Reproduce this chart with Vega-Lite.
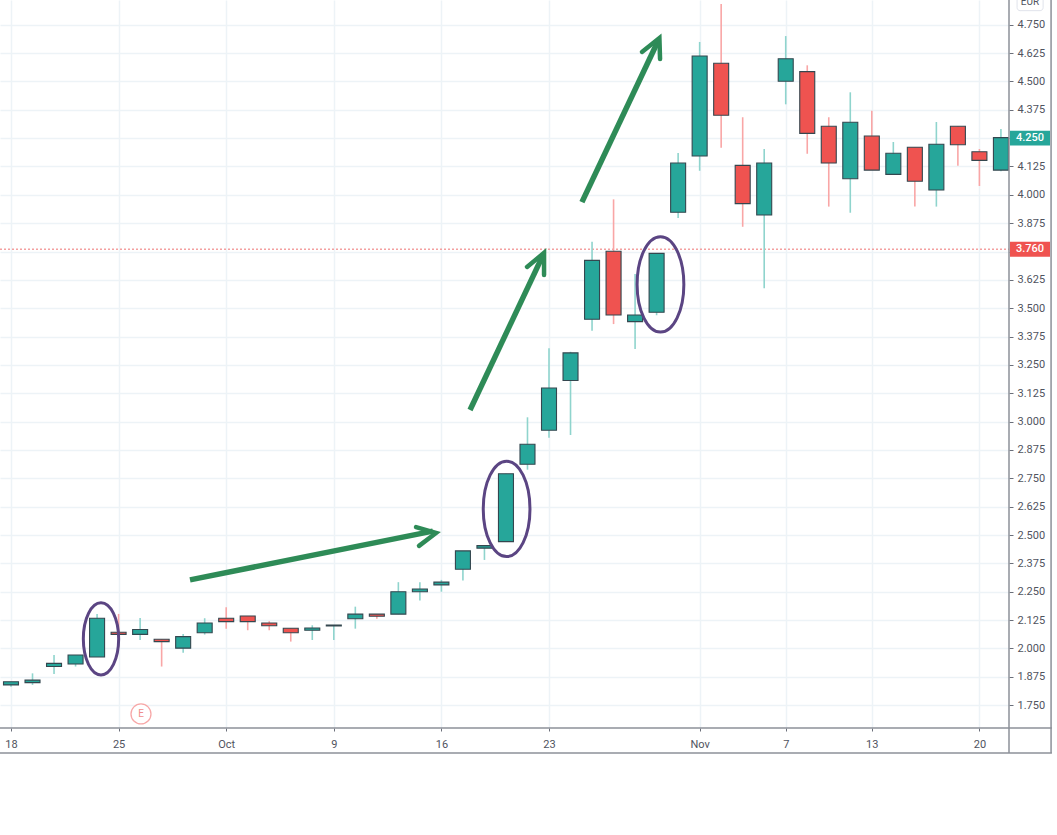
{
  "$schema": "https://vega.github.io/schema/vega-lite/v6.json",
  "width": 1009,
  "height": 728,
  "autosize": "none",
  "padding": {"left": 0, "top": 0, "right": 48, "bottom": 107},
  "background": "white",
  "config": {"view": {"stroke": null}, "axis": {"labelOverlap": false}},
  "datasets": {
    "candles": [
      {"i": 0, "o": 1.839, "h": 1.853, "l": 1.831, "c": 1.853},
      {"i": 1, "o": 1.849, "h": 1.890, "l": 1.839, "c": 1.860},
      {"i": 2, "o": 1.920, "h": 1.971, "l": 1.887, "c": 1.934},
      {"i": 3, "o": 1.931, "h": 1.971, "l": 1.920, "c": 1.971},
      {"i": 4, "o": 1.962, "h": 2.152, "l": 1.962, "c": 2.133},
      {"i": 5, "o": 2.071, "h": 2.152, "l": 2.062, "c": 2.062},
      {"i": 6, "o": 2.062, "h": 2.134, "l": 2.037, "c": 2.083},
      {"i": 7, "o": 2.040, "h": 2.040, "l": 1.920, "c": 2.030},
      {"i": 8, "o": 2.001, "h": 2.064, "l": 1.981, "c": 2.052},
      {"i": 9, "o": 2.069, "h": 2.133, "l": 2.061, "c": 2.112},
      {"i": 10, "o": 2.133, "h": 2.181, "l": 2.087, "c": 2.118},
      {"i": 11, "o": 2.143, "h": 2.143, "l": 2.080, "c": 2.118},
      {"i": 12, "o": 2.112, "h": 2.120, "l": 2.080, "c": 2.100},
      {"i": 13, "o": 2.089, "h": 2.089, "l": 2.030, "c": 2.069},
      {"i": 14, "o": 2.080, "h": 2.102, "l": 2.037, "c": 2.090},
      {"i": 15, "o": 2.099, "h": 2.103, "l": 2.037, "c": 2.103},
      {"i": 16, "o": 2.131, "h": 2.184, "l": 2.087, "c": 2.151},
      {"i": 17, "o": 2.151, "h": 2.151, "l": 2.131, "c": 2.142},
      {"i": 18, "o": 2.151, "h": 2.292, "l": 2.151, "c": 2.250},
      {"i": 19, "o": 2.250, "h": 2.292, "l": 2.211, "c": 2.262},
      {"i": 20, "o": 2.280, "h": 2.302, "l": 2.250, "c": 2.292},
      {"i": 21, "o": 2.349, "h": 2.430, "l": 2.299, "c": 2.430},
      {"i": 22, "o": 2.442, "h": 2.453, "l": 2.390, "c": 2.453},
      {"i": 23, "o": 2.471, "h": 2.770, "l": 2.471, "c": 2.770},
      {"i": 24, "o": 2.812, "h": 3.019, "l": 2.788, "c": 2.900},
      {"i": 25, "o": 2.962, "h": 3.323, "l": 2.929, "c": 3.148},
      {"i": 26, "o": 3.181, "h": 3.308, "l": 2.941, "c": 3.303},
      {"i": 27, "o": 3.451, "h": 3.793, "l": 3.401, "c": 3.711},
      {"i": 28, "o": 3.751, "h": 3.980, "l": 3.430, "c": 3.470},
      {"i": 29, "o": 3.441, "h": 3.651, "l": 3.320, "c": 3.470},
      {"i": 30, "o": 3.482, "h": 3.742, "l": 3.469, "c": 3.742},
      {"i": 31, "o": 3.923, "h": 4.184, "l": 3.898, "c": 4.140},
      {"i": 32, "o": 4.171, "h": 4.674, "l": 4.106, "c": 4.612},
      {"i": 33, "o": 4.580, "h": 4.841, "l": 4.208, "c": 4.351},
      {"i": 34, "o": 4.130, "h": 4.342, "l": 3.859, "c": 3.961},
      {"i": 35, "o": 3.911, "h": 4.202, "l": 3.588, "c": 4.140},
      {"i": 36, "o": 4.501, "h": 4.700, "l": 4.399, "c": 4.600},
      {"i": 37, "o": 4.543, "h": 4.571, "l": 4.181, "c": 4.271},
      {"i": 38, "o": 4.302, "h": 4.342, "l": 3.948, "c": 4.140},
      {"i": 39, "o": 4.071, "h": 4.452, "l": 3.921, "c": 4.320},
      {"i": 40, "o": 4.259, "h": 4.371, "l": 4.109, "c": 4.109},
      {"i": 41, "o": 4.090, "h": 4.233, "l": 4.090, "c": 4.183},
      {"i": 42, "o": 4.210, "h": 4.210, "l": 3.948, "c": 4.060},
      {"i": 43, "o": 4.021, "h": 4.321, "l": 3.948, "c": 4.223},
      {"i": 44, "o": 4.302, "h": 4.302, "l": 4.128, "c": 4.221},
      {"i": 45, "o": 4.190, "h": 4.202, "l": 4.039, "c": 4.152},
      {"i": 46, "o": 4.109, "h": 4.290, "l": 4.104, "c": 4.252}
    ],
    "shafts": [
      {"arrow": "a", "s": 0, "i": 8.318, "p": 2.302},
      {"arrow": "a", "s": 1, "i": 19.6, "p": 2.517},
      {"arrow": "b", "s": 0, "i": 21.33, "p": 3.051},
      {"arrow": "b", "s": 1, "i": 24.7, "p": 3.73},
      {"arrow": "c", "s": 0, "i": 26.53, "p": 3.968},
      {"arrow": "c", "s": 1, "i": 30.05, "p": 4.675}
    ],
    "heads": [
      {"arrow": "a", "s": 0, "i": 18.82, "p": 2.535},
      {"arrow": "a", "s": 1, "i": 19.75, "p": 2.509},
      {"arrow": "a", "s": 2, "i": 18.96, "p": 2.452},
      {"arrow": "b", "s": 0, "i": 23.98, "p": 3.682},
      {"arrow": "b", "s": 1, "i": 24.77, "p": 3.744},
      {"arrow": "b", "s": 2, "i": 24.77, "p": 3.646},
      {"arrow": "c", "s": 0, "i": 29.32, "p": 4.630},
      {"arrow": "c", "s": 1, "i": 30.13, "p": 4.691},
      {"arrow": "c", "s": 2, "i": 30.16, "p": 4.599}
    ],
    "rings": [
      {"i": 4.182, "p": 2.042, "ring": "small"},
      {"i": 23.03, "p": 2.615, "ring": "tall"},
      {"i": 30.18, "p": 3.605, "ring": "tall"}
    ],
    "frame": [
      {"i": -0.511, "i2": 48.37, "p": 1.649, "p2": 1.649},
      {"i": -0.511, "i2": 48.37, "p": 1.539, "p2": 1.539},
      {"i": 46.375, "i2": 46.375, "p": 4.859, "p2": 1.539},
      {"i": 48.33, "i2": 48.33, "p": 4.859, "p2": 1.539}
    ],
    "tags": [
      {"i": 46.42, "i2": 48.28, "mid": 47.35, "p": 4.283, "p2": 4.217, "price": 4.25, "label": "4.250", "kind": "last"},
      {"i": 46.42, "i2": 48.28, "mid": 47.35, "p": 3.793, "p2": 3.727, "price": 3.76, "label": "3.760", "kind": "prev"}
    ]
  },
  "data": {"name": "candles"},
  "encoding": {
    "x": {
      "field": "i",
      "type": "quantitative",
      "scale": {"domain": [-0.511, 46.375], "zero": false, "nice": false, "padding": 0},
      "axis": {
        "title": null,
        "values": [0, 5, 10, 15, 20, 25, 32, 36, 40, 45],
        "labelExpr": "{'0':'18','5':'25','10':'Oct','15':'9','20':'16','25':'23','32':'Nov','36':'7','40':'13','45':'20'}[datum.value]",
        "domain": false,
        "tickSize": 3,
        "tickColor": "#6b6f7a",
        "labelPadding": 7,
        "labelFont": "Roboto",
        "labelFontSize": 11,
        "labelColor": "#50535e",
        "labelFlush": false,
        "labelOverlap": false,
        "gridColor": "#edf3f7",
        "gridWidth": 1.5
      }
    },
    "y": {
      "field": "p",
      "type": "quantitative",
      "scale": {"domain": [1.649, 4.859], "zero": false, "nice": false},
      "axis": {
        "title": null,
        "orient": "right",
        "values": [1.75, 1.875, 2, 2.125, 2.25, 2.375, 2.5, 2.625, 2.75, 2.875, 3, 3.125, 3.25, 3.375, 3.5, 3.625, 3.75, 3.875, 4, 4.125, 4.25, 4.375, 4.5, 4.625, 4.75],
        "format": ".3f",
        "labelExpr": "datum.value == 4.25 || datum.value == 3.75 ? '' : datum.label",
        "domain": false,
        "tickSize": 4,
        "tickColor": "#6b6f7a",
        "labelPadding": 4,
        "labelFont": "Roboto",
        "labelFontSize": 11,
        "labelColor": "#50535e",
        "labelOverlap": false,
        "gridColor": "#edf3f7",
        "gridWidth": 1.5
      }
    }
  },
  "layer": [
    {
      "data": {"values": [{"i": -0.511, "i2": 46.375, "p": 3.76}]},
      "mark": {"type": "rule", "stroke": "#f4a0a0", "strokeWidth": 1.4, "strokeDash": [2, 2]},
      "encoding": {"x2": {"field": "i2"}}
    },
    {
      "mark": {"type": "rule", "strokeWidth": 1.6},
      "encoding": {
        "y": {"field": "l", "type": "quantitative", "scale": {"domain": [1.649, 4.859], "zero": false, "nice": false}, "axis": {"title": null, "orient": "right", "values": [1.75, 1.875, 2, 2.125, 2.25, 2.375, 2.5, 2.625, 2.75, 2.875, 3, 3.125, 3.25, 3.375, 3.5, 3.625, 3.75, 3.875, 4, 4.125, 4.25, 4.375, 4.5, 4.625, 4.75], "labelOverlap": false}},
        "y2": {"field": "h"},
        "stroke": {"condition": {"test": "datum.c >= datum.o", "value": "#8fd4cd"}, "value": "#f9a6a6"}
      }
    },
    {
      "mark": {"type": "bar", "orient": "vertical", "size": 15, "stroke": "#34474f", "strokeWidth": 1.1},
      "encoding": {
        "y": {"field": "o", "type": "quantitative", "scale": {"domain": [1.649, 4.859], "zero": false, "nice": false}, "axis": {"title": null, "orient": "right", "values": [1.75, 1.875, 2, 2.125, 2.25, 2.375, 2.5, 2.625, 2.75, 2.875, 3, 3.125, 3.25, 3.375, 3.5, 3.625, 3.75, 3.875, 4, 4.125, 4.25, 4.375, 4.5, 4.625, 4.75], "labelOverlap": false}},
        "y2": {"field": "c"},
        "fill": {"condition": {"test": "datum.c >= datum.o", "value": "#26a69a"}, "value": "#ef5350"}
      }
    },
    {
      "data": {"name": "frame"},
      "mark": {"type": "rule", "stroke": "#8d9099", "strokeWidth": 1.5},
      "encoding": {"x2": {"field": "i2"}, "y2": {"field": "p2"}}
    },
    {
      "data": {"name": "tags"},
      "mark": {"type": "rect"},
      "encoding": {
        "x2": {"field": "i2"},
        "y2": {"field": "p2"},
        "fill": {"field": "kind", "type": "nominal", "scale": {"domain": ["last", "prev"], "range": ["#26a69a", "#ef5350"]}, "legend": null}
      }
    },
    {
      "data": {"name": "tags"},
      "mark": {"type": "text", "font": "Roboto", "fontSize": 11, "fontWeight": 500, "fill": "white"},
      "encoding": {
        "x": {"field": "mid", "type": "quantitative", "scale": {"domain": [-0.511, 46.375], "zero": false, "nice": false, "padding": 0}, "axis": {"title": null, "values": [0, 5, 10, 15, 20, 25, 32, 36, 40, 45], "labelOverlap": false}},
        "y": {"field": "price", "type": "quantitative", "scale": {"domain": [1.649, 4.859], "zero": false, "nice": false}, "axis": {"title": null, "orient": "right", "values": [1.75, 1.875, 2, 2.125, 2.25, 2.375, 2.5, 2.625, 2.75, 2.875, 3, 3.125, 3.25, 3.375, 3.5, 3.625, 3.75, 3.875, 4, 4.125, 4.25, 4.375, 4.5, 4.625, 4.75], "labelOverlap": false}},
        "text": {"field": "label"}
      }
    },
    {
      "data": {"values": [{"i": 46.75, "i2": 47.96, "p": 4.9, "p2": 4.812}]},
      "mark": {"type": "rect", "fill": "white", "stroke": "#e0e3eb", "strokeWidth": 1, "cornerRadius": 3},
      "encoding": {"x2": {"field": "i2"}, "y2": {"field": "p2"}}
    },
    {
      "data": {"values": [{"i": 47.35, "p": 4.848, "label": "EUR"}]},
      "mark": {"type": "text", "font": "Roboto", "fontSize": 10, "fill": "#50535e"},
      "encoding": {"text": {"field": "label"}}
    },
    {
      "data": {"values": [{"i": 6.04, "p": 1.711, "label": "E"}]},
      "mark": {"type": "point", "shape": "circle", "size": 400, "filled": true, "fill": "white", "stroke": "#f7a8a8", "strokeWidth": 1.3, "opacity": 1}
    },
    {
      "data": {"values": [{"i": 6.04, "p": 1.711, "label": "E"}]},
      "mark": {"type": "text", "font": "Roboto", "fontSize": 10, "fill": "#f08d8d"},
      "encoding": {"text": {"field": "label"}}
    },
    {
      "data": {"name": "shafts"},
      "mark": {"type": "line", "stroke": "#2e8b57", "strokeWidth": 5.5, "strokeCap": "butt"},
      "encoding": {"detail": {"field": "arrow"}, "order": {"field": "s"}}
    },
    {
      "data": {"name": "heads"},
      "mark": {"type": "line", "stroke": "#2e8b57", "strokeWidth": 4.5, "strokeCap": "round", "strokeJoin": "miter"},
      "encoding": {"detail": {"field": "arrow"}, "order": {"field": "s"}}
    },
    {
      "data": {"name": "rings"},
      "mark": {"type": "point", "shape": "M0,-1A0.49,1 0 1,1 0,1A0.49,1 0 1,1 0,-1Z", "filled": false, "stroke": "#5b4583", "strokeWidth": 3, "opacity": 1},
      "encoding": {
        "size": {"field": "ring", "type": "nominal", "scale": {"domain": ["small", "tall"], "range": [5200, 9100]}, "legend": null}
      }
    }
  ]
}
